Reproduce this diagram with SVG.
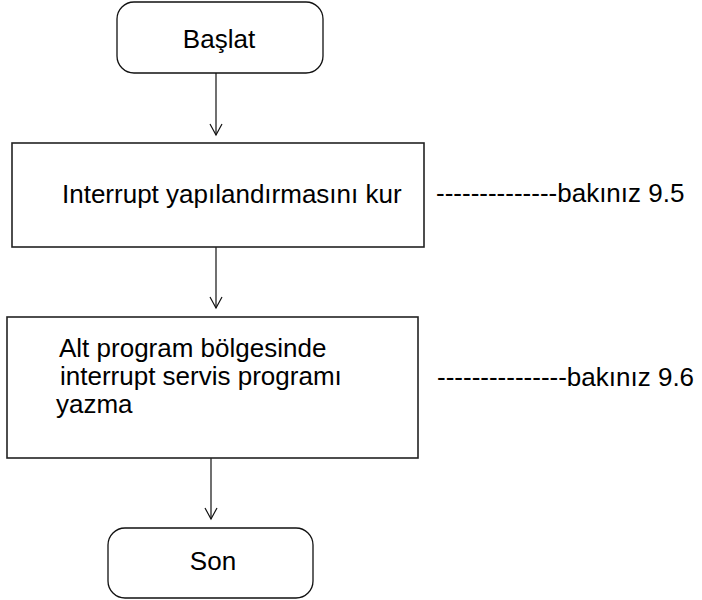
<svg xmlns="http://www.w3.org/2000/svg" width="702" height="600" viewBox="0 0 702 600">
<style>
text{font-family:"Liberation Sans",Arial,sans-serif;font-size:26px;fill:#000}
.box{fill:#fff;stroke:#222;stroke-width:1.6}
.term{fill:#fff;stroke:#111;stroke-width:1.3}
.conn{stroke:#111;stroke-width:1.2;fill:none}
</style>
<defs>
<marker id="ah" viewBox="0 0 14 14" refX="12" refY="7" markerWidth="14" markerHeight="14" markerUnits="userSpaceOnUse" orient="auto">
<path d="M1,1 L12,7 L1,13" fill="none" stroke="#111" stroke-width="1.2"/>
</marker>
</defs>
<rect width="702" height="600" fill="#fff"/>
<g id="connectors">
<line class="conn" x1="216" y1="73" x2="216" y2="135" marker-end="url(#ah)"/>
<line class="conn" x1="216" y1="247" x2="216" y2="308" marker-end="url(#ah)"/>
<line class="conn" x1="211" y1="458" x2="211" y2="519" marker-end="url(#ah)"/>
</g>
<g id="start">
<rect class="term" x="117" y="2" width="206" height="71" rx="17"/>
<text x="219" y="48" text-anchor="middle">Başlat</text>
</g>
<g id="setup">
<rect class="box" x="12" y="143" width="412" height="104"/>
<text x="62" y="203">Interrupt yapılandırmasını kur</text>
</g>
<g id="isr">
<rect class="box" x="7" y="317" width="411" height="141"/>
<text x="59" y="357">Alt program bölgesinde</text>
<text x="60" y="385">interrupt servis programı</text>
<text x="56" y="413">yazma</text>
</g>
<g id="end">
<rect class="term" x="108" y="528" width="205" height="70" rx="17"/>
<text x="213" y="570" text-anchor="middle">Son</text>
</g>
<g id="notes">
<text x="436" y="202">--------------bakınız 9.5</text>
<text x="437" y="386">---------------bakınız 9.6</text>
</g>
</svg>
